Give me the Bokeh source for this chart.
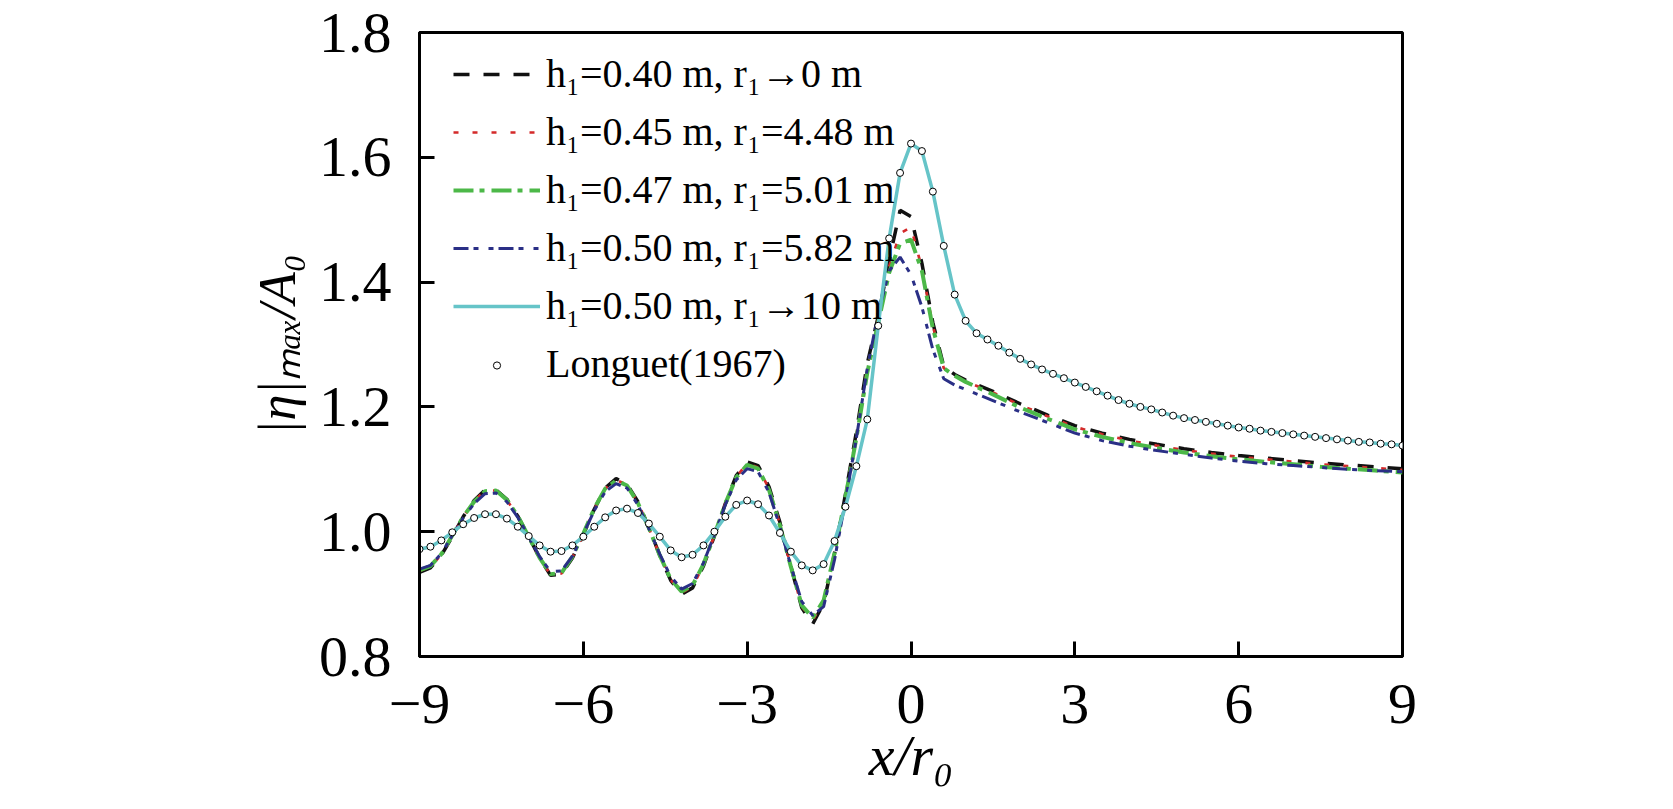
from bokeh.plotting import figure
from bokeh.models import Range1d, FixedTicker, PrintfTickFormatter, Legend, LegendItem
from bokeh.embed import file_html
from bokeh.resources import INLINE

# ---------------- data ----------------
x_ticks = [-9, -6, -3, 0, 3, 6, 9]
x_tick_labels = ["\u22129", "\u22126", "\u22123", "0", "3", "6", "9"]
y_ticks = [0.8, 1.0, 1.2, 1.4, 1.6, 1.8]

x_sim = [-9.0, -8.8, -8.6, -8.4, -8.2, -8.0, -7.8, -7.6, -7.4, -7.2,
         -7.0, -6.8, -6.6, -6.4, -6.2, -6.0, -5.8, -5.6, -5.4, -5.2,
         -5.0, -4.8, -4.6, -4.4, -4.2, -4.0, -3.8, -3.6, -3.4, -3.2,
         -3.0, -2.8, -2.6, -2.4, -2.2, -2.0, -1.8, -1.6, -1.4, -1.2,
         -1.0, -0.8, -0.6, -0.4, -0.2, 0.0, 0.2, 0.4, 0.6, 0.8, 1.0,
         1.5, 2.0, 2.5, 3.0, 3.5, 4.0, 4.5, 5.0, 5.5, 6.0, 6.5, 7.0, 7.5, 8.0, 8.5, 9.0]

y_h040 = [0.935, 0.942, 0.962, 0.992, 1.024, 1.050, 1.067, 1.067, 1.052, 1.025,
          0.992, 0.958, 0.930, 0.932, 0.958, 0.995, 1.036, 1.070, 1.085, 1.076,
          1.048, 1.007, 0.962, 0.922, 0.900, 0.910, 0.945, 0.993, 1.045, 1.090,
          1.112, 1.106, 1.072, 1.015, 0.945, 0.878, 0.852, 0.885, 0.965, 1.060,
          1.160, 1.270, 1.345, 1.435, 1.515, 1.505, 1.430, 1.335, 1.265, 1.252, 1.243,
          1.225, 1.205, 1.187, 1.170, 1.158, 1.148, 1.140, 1.133, 1.127, 1.122, 1.118, 1.114, 1.110, 1.107, 1.104, 1.101]

y_h045 = [0.937, 0.944, 0.963, 0.993, 1.024, 1.049, 1.066, 1.066, 1.051, 1.024,
          0.991, 0.957, 0.931, 0.933, 0.959, 0.996, 1.036, 1.069, 1.083, 1.075,
          1.047, 1.006, 0.962, 0.923, 0.902, 0.912, 0.946, 0.994, 1.045, 1.088,
          1.109, 1.103, 1.069, 1.012, 0.944, 0.880, 0.858, 0.888, 0.966, 1.058,
          1.155, 1.262, 1.340, 1.425, 1.478, 1.488, 1.422, 1.330, 1.262, 1.250, 1.241,
          1.223, 1.203, 1.185, 1.168, 1.156, 1.146, 1.138, 1.131, 1.125, 1.120, 1.116, 1.112, 1.108, 1.105, 1.102, 1.099]

y_h047 = [0.938, 0.945, 0.964, 0.994, 1.024, 1.048, 1.065, 1.066, 1.051, 1.025,
          0.992, 0.958, 0.932, 0.934, 0.960, 0.997, 1.037, 1.069, 1.082, 1.074,
          1.046, 1.006, 0.962, 0.924, 0.904, 0.914, 0.948, 0.995, 1.045, 1.087,
          1.107, 1.101, 1.067, 1.010, 0.944, 0.882, 0.862, 0.890, 0.966, 1.056,
          1.150, 1.255, 1.335, 1.415, 1.462, 1.468, 1.418, 1.326, 1.262, 1.250, 1.240,
          1.220, 1.199, 1.181, 1.164, 1.152, 1.142, 1.134, 1.127, 1.121, 1.116, 1.112, 1.108, 1.104, 1.101, 1.098, 1.095]

y_h050 = [0.940, 0.946, 0.965, 0.994, 1.022, 1.045, 1.061, 1.062, 1.048, 1.023,
          0.992, 0.960, 0.936, 0.937, 0.961, 0.996, 1.034, 1.064, 1.077, 1.070,
          1.043, 1.005, 0.964, 0.928, 0.908, 0.917, 0.950, 0.995, 1.043, 1.083,
          1.101, 1.096, 1.063, 1.008, 0.945, 0.888, 0.866, 0.880, 0.955, 1.050,
          1.150, 1.262, 1.350, 1.418, 1.440, 1.412, 1.360, 1.292, 1.245, 1.235, 1.228,
          1.210, 1.192, 1.175, 1.158, 1.146, 1.137, 1.130, 1.124, 1.118, 1.113, 1.109, 1.106, 1.103, 1.100, 1.098, 1.096]

x_longuet = [-9.0, -8.8, -8.6, -8.4, -8.2, -8.0, -7.8, -7.6, -7.4, -7.2,
             -7.0, -6.8, -6.6, -6.4, -6.2, -6.0, -5.8, -5.6, -5.4, -5.2,
             -5.0, -4.8, -4.6, -4.4, -4.2, -4.0, -3.8, -3.6, -3.4, -3.2,
             -3.0, -2.8, -2.6, -2.4, -2.2, -2.0, -1.8, -1.6, -1.4, -1.2,
             -1.0, -0.8, -0.6, -0.4, -0.2, 0.0, 0.2, 0.4, 0.6, 0.8,
             1.0, 1.2, 1.4, 1.6, 1.8, 2.0, 2.2, 2.4, 2.6, 2.8,
             3.0, 3.2, 3.4, 3.6, 3.8, 4.0, 4.2, 4.4, 4.6, 4.8,
             5.0, 5.2, 5.4, 5.6, 5.8, 6.0, 6.2, 6.4, 6.6, 6.8,
             7.0, 7.2, 7.4, 7.6, 7.8, 8.0, 8.2, 8.4, 8.6, 8.8, 9.0]

y_longuet = [0.972, 0.976, 0.986, 0.999, 1.012, 1.022, 1.028, 1.028, 1.021, 1.008,
             0.993, 0.978, 0.968, 0.969, 0.978, 0.992, 1.008, 1.023, 1.034, 1.037,
             1.030, 1.013, 0.992, 0.970, 0.959, 0.963, 0.978, 1.000, 1.024, 1.043,
             1.050, 1.044, 1.026, 0.998, 0.968, 0.946, 0.938, 0.948, 0.985, 1.040,
             1.105, 1.180, 1.330, 1.470, 1.575, 1.622, 1.610, 1.545, 1.458, 1.380,
             1.338, 1.318, 1.308, 1.298, 1.287, 1.277, 1.268, 1.260, 1.253, 1.246,
             1.239, 1.232, 1.225, 1.218, 1.211, 1.205, 1.200, 1.196, 1.191, 1.186,
             1.182, 1.179, 1.176, 1.173, 1.170, 1.167, 1.165, 1.162, 1.160, 1.158,
             1.156, 1.154, 1.152, 1.150, 1.148, 1.146, 1.144, 1.143, 1.141, 1.140, 1.138]

# h1=0.50 m, r1->10 m coincides with the Longuet solution
y_h050_r10 = y_longuet

labels = ["h\u2081=0.40 m, r\u2081\u21920 m",
          "h\u2081=0.45 m, r\u2081=4.48 m",
          "h\u2081=0.47 m, r\u2081=5.01 m",
          "h\u2081=0.50 m, r\u2081=5.82 m",
          "h\u2081=0.50 m, r\u2081\u219210 m",
          "Longuet(1967)"]

# ---------------- figure ----------------
FONT = "Liberation Serif"
p = figure(width=1657, height=793, output_backend="svg", toolbar_location=None,
           x_range=Range1d(-9, 9), y_range=Range1d(0.8, 1.8),
           min_border_left=419, min_border_right=255, min_border_top=32, min_border_bottom=137)
p.grid.visible = False
p.outline_line_color = "black"
p.outline_line_width = 3
p.background_fill_color = "white"
p.border_fill_color = "white"

r_blk = p.line(x_sim, y_h040, line_color="#111111", line_width=3.5, line_dash="16 14")
r_red = p.line(x_sim, y_h045, line_color="#d42a2a", line_width=2.7, line_dash="5 14")
r_grn = p.line(x_sim, y_h047, line_color="#4cb848", line_width=4, line_dash="20 6 5 7")
r_blu = p.line(x_sim, y_h050, line_color="#2a2f86", line_width=3, line_dash="15 5 5 10 5 5")
r_cyn = p.line(x_longuet, y_h050_r10, line_color="#66c4c8", line_width=3.5)
r_lg = p.scatter(x_longuet, y_longuet, marker="circle", size=7, fill_color="white",
                 line_color="black", line_width=1)
r_dummy = p.scatter(x=[], y=[], marker="circle", size=1, alpha=0)

# axes
p.xaxis.ticker = FixedTicker(ticks=x_ticks)
p.xaxis.major_label_overrides = {t: s for t, s in zip(x_ticks, x_tick_labels)}
p.yaxis.ticker = FixedTicker(ticks=y_ticks)
p.yaxis.formatter = PrintfTickFormatter(format="%.1f")
for ax in (p.xaxis[0], p.yaxis[0]):
    ax.axis_line_width = 3
    ax.axis_line_color = "black"
    ax.major_tick_in = 15
    ax.major_tick_out = 0
    ax.major_tick_line_width = 3
    ax.major_tick_line_color = "black"
    ax.minor_tick_line_color = None
    ax.major_label_text_font = FONT
    ax.major_label_text_font_size = "58px"
    ax.major_label_text_color = "black"
    ax.axis_label_text_font = FONT
    ax.axis_label_text_font_style = "italic"
    ax.axis_label_text_color = "black"
p.xaxis.major_label_standoff = 28
p.yaxis.major_label_standoff = 28
p.xaxis.axis_label = "x/r\u2080"
p.xaxis.axis_label_text_font_size = "58px"
p.xaxis.axis_label_standoff = -3
p.yaxis.axis_label = "|\u03b7|\u2098\u2090\u2093/A\u2080"
p.yaxis.axis_label_text_font_size = "52px"
p.yaxis.axis_label_standoff = 10

# legend (text + line glyphs)
renderers = [r_blk, r_red, r_grn, r_blu, r_cyn, r_dummy]
items = [LegendItem(label=l, renderers=[r]) for l, r in zip(labels, renderers)]
leg = Legend(items=items, location=(34, 269), glyph_width=87, glyph_height=46, label_height=46,
             spacing=11, padding=0, margin=0, label_standoff=6,
             label_text_font=FONT, label_text_font_size="40px", label_text_color="black",
             border_line_alpha=0, background_fill_alpha=0)
p.add_layout(leg)

# small marker for the Longuet entry
leg2 = Legend(items=[LegendItem(label=" ", renderers=[r_lg])], location=(34, 282),
              glyph_width=87, glyph_height=18, label_height=18, spacing=0, padding=0, margin=0,
              label_text_font_size="1px", border_line_alpha=0, background_fill_alpha=0)
p.add_layout(leg2)

open("out.html", "w").write(file_html(p, INLINE))
